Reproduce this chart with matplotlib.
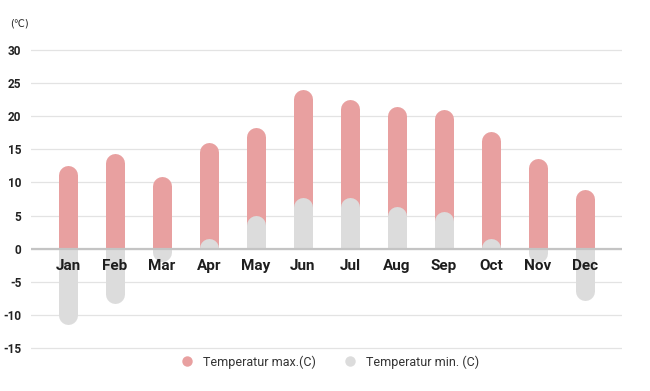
import matplotlib.pyplot as plt
from matplotlib.lines import Line2D
from matplotlib.patches import Rectangle

plt.rcParams['font.family'] = ['Roboto', 'DejaVu Sans']

months = ['Jan', 'Feb', 'Mar', 'Apr', 'May', 'Jun', 'Jul', 'Aug', 'Sep', 'Oct', 'Nov', 'Dec']
temp_max = [12.5, 14.3, 10.9, 16.0, 18.3, 24.0, 22.6, 21.4, 21.0, 17.7, 13.6, 8.9]
temp_min = [-11.5, -8.3, -1.9, 1.5, 5.0, 7.7, 7.7, 6.4, 5.6, 1.5, -2.1, -7.9]

c_max = '#e8a0a0'
c_min = '#dcdcdc'

fig = plt.figure(figsize=(6.5, 3.91), dpi=100)
ax = fig.add_axes([31 / 650, 1 - 354.6 / 391, 591 / 650, (354.6 - 43.4) / 391])
ax.set_xlim(-0.787, 11.787)
ax.set_ylim(-16, 31)

# rounded bar tips: thick line with round caps, clipped at the zero line
px_per_unit = (354.6 - 43.4) / 47
r = 9.5 / px_per_unit
lw = 19 * 0.72

def rounded_bars(vals, color, z):
    for i, v in enumerate(vals):
        sign = 1 if v >= 0 else -1
        ln, = ax.plot([i, i], [0, v - sign * r], color=color, lw=lw,
                      solid_capstyle='round', zorder=z)
        clip = Rectangle((i - 0.5, 0), 1, sign * 40, transform=ax.transData)
        ln.set_clip_path(clip)

rounded_bars(temp_max, c_max, 2)
rounded_bars(temp_min, c_min, 3)

ax.axhline(0, color='#c4c4c4', lw=1.6, zorder=4)
ax.set_yticks(range(-15, 31, 5))
ax.set_yticklabels([str(t) for t in range(-15, 31, 5)], fontsize=8.5, fontweight='bold', color='#222222')
ax.yaxis.grid(True, color='#e3e3e3', lw=0.9, zorder=0)
ax.set_axisbelow(True)
ax.tick_params(axis='y', length=0, pad=7)
ax.set_xticks([])
for s in ax.spines.values():
    s.set_visible(False)

for i, m in enumerate(months):
    ax.annotate(m, (i, 0), xytext=(0, -12.5), textcoords='offset points',
                ha='center', va='center', fontsize=11, fontweight='bold',
                color='#1e1e1e', zorder=5)

fig.text(10 / 650, 1 - 24 / 391, '(℃)', fontsize=7, color='#222222', va='center',
         family=['DejaVu Sans'])

handles = [Line2D([], [], ls='none', marker='o', ms=7.5, color=c_max, mec='none'),
           Line2D([], [], ls='none', marker='o', ms=7.5, color=c_min, mec='none')]
fig.legend(handles, ['Temperatur max.(C)', 'Temperatur min. (C)'], loc='center',
           bbox_to_anchor=(0.503, 1 - 362 / 391), ncol=2, frameon=False,
           fontsize=9, handletextpad=0.3, columnspacing=1.7, labelcolor='#333333')

fig.savefig('out.png', dpi=100)
